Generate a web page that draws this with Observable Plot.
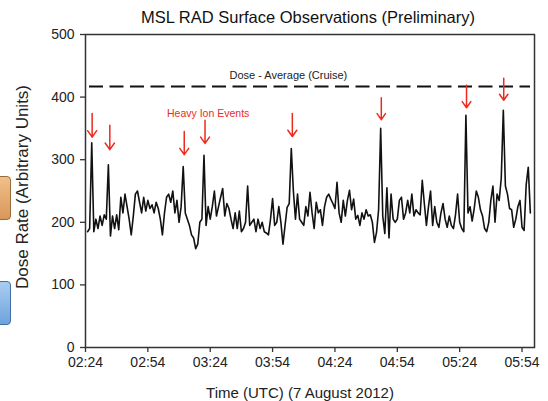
<!DOCTYPE html>
<html>
<head>
<meta charset="utf-8">
<script src="https://cdn.jsdelivr.net/npm/d3@7"></script>
<script src="https://cdn.jsdelivr.net/npm/@observablehq/plot@0.6"></script>
<style>
  html, body { margin: 0; padding: 0; background: #fff; overflow: hidden; }
  #wrap { position: relative; width: 548px; height: 401px; }
  .side { position: absolute; left: -6px; width: 15px; border-radius: 4px; }
</style>
</head>
<body>
<div id="wrap">
  <div id="chart"></div>
  <div class="side" style="top:176px;height:42px;background:linear-gradient(#f0c089,#d9975a);border:1px solid #9a6a3a;"></div>
  <div class="side" style="top:281px;height:42px;background:linear-gradient(#a9cdf2,#6fa3dc);border:1px solid #3f6fa5;"></div>
</div>
<script>
// Time axis: minutes after 02:24 UTC
const xTicks = [0, 30, 60, 90, 120, 150, 180, 210];
const xTickLabels = ["02:24", "02:54", "03:24", "03:54", "04:24", "04:54", "05:24", "05:54"];
const yTicks = [0, 100, 200, 300, 400, 500];

// Dose rate, one reading per minute starting at 02:25
const firstMinute = 1;
const doseRate = [
  185, 190, 327, 185, 205, 190, 210, 195, 212, 205,
  292, 178, 210, 190, 212, 188, 240, 215, 245, 225,
  205, 180, 210, 245, 250, 232, 215, 240, 218, 235,
  222, 228, 215, 232, 222, 205, 180, 215, 240, 245,
  232, 250, 215, 235, 200, 225, 289, 215, 205, 195,
  180, 175, 158, 165, 200, 205, 307, 195, 225, 205,
  225, 250, 210, 225, 240, 254, 210, 230, 222, 205,
  190, 215, 190, 218, 185, 190, 200, 258, 195, 200,
  205, 185, 205, 190, 200, 185, 183, 180, 205, 238,
  195, 200, 225, 200, 165, 195, 224, 230, 318, 250,
  205, 245, 205, 200, 195, 225, 210, 248, 215, 190,
  232, 215, 220, 195, 225, 240, 245, 237, 230, 222,
  264, 215, 200, 235, 210, 235, 251, 220, 237, 205,
  211, 195, 215, 205, 220, 210, 212, 200, 168, 184,
  220, 350, 210, 182, 255, 175, 245, 205, 200, 205,
  235, 240, 205, 215, 235, 215, 245, 210, 220, 215,
  212, 267, 230, 195, 225, 250, 195, 225, 200, 192,
  215, 230, 205, 192, 210, 195, 190, 212, 245, 200,
  190, 185, 371, 215, 225, 202, 222, 250, 240, 220,
  210, 190, 185, 200, 235, 258, 200, 245, 235, 270,
  379, 258, 245, 222, 220, 192, 205, 225, 235, 192,
  187, 260, 288, 215
];

const cruiseAverage = 417;

// Heavy ion event arrows (minutes after 02:24, arrow top and tip values)
const eventMinutes = [3.2, 11.7, 47.5, 57.5, 99.5, 142.3, 183.3, 201.2];
const eventTop =     [374, 355, 345, 363, 374, 399, 419, 430];
const eventTip =     [336, 316, 308, 326, 337, 364, 383, 395];

const series = doseRate.map((v, i) => ({ t: firstMinute + i, v }));
const events = eventMinutes.map((t, i) => ({ t, y1: eventTop[i], y2: eventTip[i] }));

const font = "'Liberation Sans', Arial, Helvetica, sans-serif";
const red = "#ee2a1e";

const chart = Plot.plot({
  width: 548,
  height: 401,
  marginLeft: 85,
  marginRight: 14,
  marginTop: 34,
  marginBottom: 54,
  style: { fontFamily: font, background: "transparent", color: "#222", overflow: "visible" },
  x: { domain: [0, 216], ticks: xTicks, tickFormat: d => xTickLabels[xTicks.indexOf(d)], label: null },
  y: { domain: [0, 500], ticks: yTicks, label: null },
  marks: [
    Plot.axisX({ ticks: xTicks, tickFormat: d => xTickLabels[xTicks.indexOf(d)], tickSize: 5, tickPadding: 5, fontSize: 14, stroke: "#333", strokeWidth: 1.3, label: null }),
    Plot.axisY({ ticks: yTicks, tickSize: 5, tickPadding: 6, fontSize: 14, stroke: "#333", strokeWidth: 1.3, label: null }),
    Plot.frame({ stroke: "#333", strokeWidth: 1.5 }),
    Plot.ruleY([cruiseAverage], { stroke: "#111", strokeWidth: 2, strokeDasharray: "14,6.5", insetLeft: 4, insetRight: 4 }),
    Plot.text(["Dose - Average (Cruise)"], { x: 97.6, y: 434, fontSize: 11, fill: "#222" }),
    Plot.text(["Heavy Ion Events"], { x: 59, y: 374, fontSize: 10.5, fill: red }),
    Plot.arrow(events, { x: "t", y1: "y1", y2: "y2", stroke: red, strokeWidth: 1.5, headLength: 9, headAngle: 70 }),
    Plot.line(series, { x: "t", y: "v", stroke: "#111", strokeWidth: 1.6 }),
    Plot.text(["MSL RAD Surface Observations (Preliminary)"], { frameAnchor: "top", lineAnchor: "middle", dy: -17, dx: -2, fontSize: 16.5, fill: "#111" }),
    Plot.text(["Dose Rate (Arbitrary Units)"], { frameAnchor: "left", textAnchor: "middle", lineAnchor: "middle", dx: -63, dy: -4, rotate: -90, fontSize: 17, fill: "#222" }),
    Plot.text(["Time (UTC) (7 August 2012)"], { frameAnchor: "bottom", lineAnchor: "bottom", dy: 50, dx: -10, fontSize: 15, fill: "#222" })
  ]
});
document.getElementById("chart").appendChild(chart);
</script>
</body>
</html>
